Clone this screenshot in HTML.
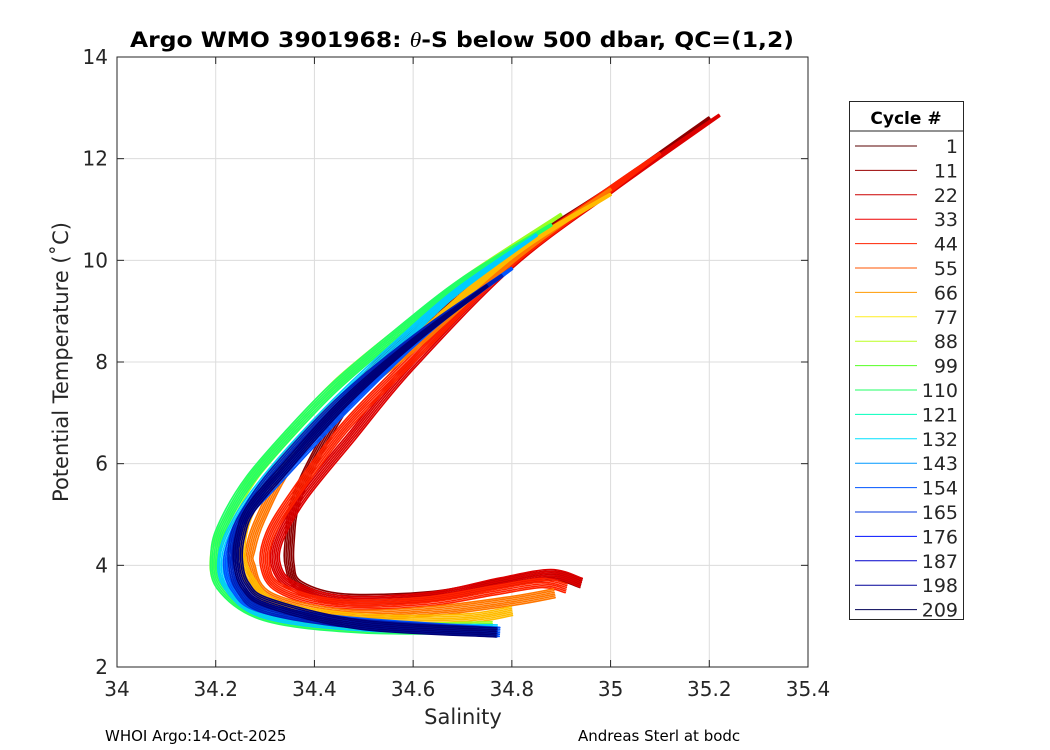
<!DOCTYPE html>
<html><head><meta charset="utf-8"><style>
body{margin:0;background:#fff;}
svg{display:block;font-family:"DejaVu Sans","Liberation Sans",sans-serif;}
</style></head><body>
<svg id="chart" width="1050" height="750" viewBox="0 0 1050 750" xmlns="http://www.w3.org/2000/svg">
<rect width="1050" height="750" fill="#fff"/>
<g id="grid"></g>
<g id="series"></g>
<rect x="117" y="57" width="691" height="610" fill="none" stroke="#262626" stroke-width="1"/>
<g id="ticks"></g>
<text x="462" y="47" text-anchor="middle" font-weight="bold" font-size="21" textLength="664" lengthAdjust="spacingAndGlyphs">Argo WMO 3901968: <tspan font-style="italic" font-weight="normal" font-family="Liberation Serif">θ</tspan>-S below 500 dbar,  QC=(1,2)</text>
<text x="463" y="724" text-anchor="middle" font-size="21" fill="#262626">Salinity</text>
<text transform="translate(68,362) rotate(-90)" text-anchor="middle" font-size="21" fill="#262626">Potential Temperature (˚C)</text>
<text x="105" y="741" font-size="15">WHOI Argo:14-Oct-2025</text>
<text x="578" y="741" font-size="15">Andreas Sterl at bodc</text>
<g id="legend"></g>
</svg>
<script>
const xTicks=[34,34.2,34.4,34.6,34.8,35,35.2,35.4];
const xTickLabels=["34","34.2","34.4","34.6","34.8","35","35.2","35.4"];
const yTicks=[2,4,6,8,10,12,14];
const yTickLabels=["2","4","6","8","10","12","14"];
const legendCycles=["1","11","22","33","44","55","66","77","88","99","110","121","132","143","154","165","176","187","198","209"];
const legendColors=["#5a0000","#990000","#cc0000","#ee0000","#ff2200","#ff5500","#ff9900","#ffee22","#bbff22","#55ff22","#22ff66","#00ffbb","#00e0ff","#0099ff","#0055ff","#0033dd","#0011ff","#0000cc","#000099","#000055"];

// representative profiles (salinity, temperature) per cycle group
const groupColors=["#8b0000","#dd0000","#ff2200","#ff7700","#ffbb00","#99ff22","#22ff66","#00ccff","#0055ff","#0022bb","#000077"];
const groupS=[
 [35.20,35.0,34.8,34.6,34.48,34.40,34.36,34.35,34.35,34.37,34.46,34.64,34.78,34.88,34.94],
 [35.22,35.0,34.796,34.594,34.476,34.378,34.329,34.322,34.357,34.46,34.636,34.775,34.879,34.94],
 [35.1,35.0,34.79,34.59,34.46,34.36,34.31,34.30,34.33,34.44,34.62,34.76,34.86,34.91],
 [35.0,34.8,34.60,34.46,34.35,34.29,34.27,34.27,34.309,34.462,34.636,34.80,34.886],
 [35.0,34.8,34.60,34.46,34.34,34.27,34.25,34.27,34.33,34.50,34.70,34.80],
 [34.9,34.7,34.56,34.45,34.36,34.28,34.23,34.20,34.21,34.30,34.50,34.76],
 [34.88,34.7,34.56,34.44,34.35,34.27,34.22,34.20,34.21,34.30,34.50,34.76],
 [34.85,34.69,34.575,34.465,34.375,34.295,34.245,34.215,34.225,34.30,34.50,34.77],
 [34.80,34.636,34.462,34.322,34.26,34.235,34.225,34.24,34.288,34.462,34.775],
 [34.78,34.62,34.46,34.325,34.265,34.24,34.235,34.25,34.30,34.48,34.77],
 [34.75,34.60,34.46,34.33,34.27,34.25,34.245,34.26,34.31,34.496,34.768]
];
const groupT=[
 [12.8,11.4,10.1,8.6,7.4,6.1,5.2,4.5,4.0,3.6,3.35,3.4,3.65,3.8,3.65],
 [12.85,11.37,9.91,7.92,6.54,5.37,4.55,4.0,3.59,3.31,3.38,3.66,3.83,3.66],
 [12.1,11.4,9.9,8.0,6.7,5.4,4.6,4.0,3.55,3.25,3.28,3.5,3.65,3.55],
 [11.4,10.0,8.3,7.2,6.0,4.9,4.3,4.0,3.38,3.04,3.1,3.3,3.45],
 [11.3,10.1,8.4,7.3,6.1,5.1,4.3,3.7,3.2,2.95,2.95,3.1],
 [10.9,9.6,8.5,7.6,6.7,5.8,5.0,4.3,3.6,3.02,2.78,2.8],
 [10.7,9.6,8.5,7.5,6.6,5.7,4.9,4.3,3.6,3.0,2.76,2.75],
 [10.5,9.4,8.4,7.4,6.5,5.6,4.9,4.2,3.6,3.05,2.8,2.74],
 [9.84,8.67,7.09,5.65,5.0,4.5,4.0,3.55,3.18,2.9,2.69],
 [9.7,8.6,7.3,5.9,5.1,4.6,4.05,3.55,3.15,2.86,2.68],
 [9.5,8.4,7.2,5.8,5.1,4.6,4.1,3.6,3.25,2.83,2.68]
];

const NS='http://www.w3.org/2000/svg';
const X0=117,X1=808,Y0=667,Y1=57;
const bundleOff=[-1,-0.6,-0.2,0.2,0.6,1];
const bundleHalfWidth=4.5;
function xs(s){return X0+(s-34)/(35.4-34)*(X1-X0);}
function ys(t){return Y0-(t-2)/(14-2)*(Y0-Y1);}
function mk(tag,attrs,parent){const e=document.createElementNS(NS,tag);for(const k in attrs)e.setAttribute(k,attrs[k]);parent.appendChild(e);return e;}
function smooth(P){
 let d='M'+P[0][0].toFixed(1)+','+P[0][1].toFixed(1);
 for(let i=0;i<P.length-1;i++){
  const p0=P[Math.max(0,i-1)],p1=P[i],p2=P[i+1],p3=P[Math.min(P.length-1,i+2)];
  const c1=[p1[0]+(p2[0]-p0[0])/6,p1[1]+(p2[1]-p0[1])/6];
  const c2=[p2[0]-(p3[0]-p1[0])/6,p2[1]-(p3[1]-p1[1])/6];
  d+=' C'+c1[0].toFixed(1)+','+c1[1].toFixed(1)+' '+c2[0].toFixed(1)+','+c2[1].toFixed(1)+' '+p2[0].toFixed(1)+','+p2[1].toFixed(1);
 }
 return d;
}
const grid=document.getElementById('grid'),ticks=document.getElementById('ticks'),ser=document.getElementById('series'),leg=document.getElementById('legend');

xTicks.forEach((v,i)=>{
 const x=xs(v);
 if(i>0&&i<xTicks.length-1){const g=mk('line',{x1:x,x2:x,y1:Y1,y2:Y0,stroke:'#dcdcdc','stroke-width':1},grid);
 
 }
 mk('line',{x1:x,x2:x,y1:Y0,y2:Y0-7,stroke:'#262626'},ticks);
 mk('line',{x1:x,x2:x,y1:Y1,y2:Y1+7,stroke:'#262626'},ticks);
 const t=mk('text',{x:x,y:Y0+29,'text-anchor':'middle','font-size':20,fill:'#262626'},ticks);
 t.textContent=xTickLabels[i];
 
 
});
yTicks.forEach((v,i)=>{
 const y=ys(v);
 if(i>0&&i<yTicks.length-1){const g=mk('line',{x1:X0,x2:X1,y1:y,y2:y,stroke:'#dcdcdc','stroke-width':1},grid);
 
 }
 mk('line',{x1:X0,x2:X0+7,y1:y,y2:y,stroke:'#262626'},ticks);
 mk('line',{x1:X1,x2:X1-7,y1:y,y2:y,stroke:'#262626'},ticks);
 const t=mk('text',{x:X0-9,y:y+7,'text-anchor':'end','font-size':20,fill:'#262626'},ticks);
 t.textContent=yTickLabels[i];
 
 
});

groupS.forEach((S,g)=>{
 const T=groupT[g];
 const P=S.map((s,i)=>[xs(s),ys(T[i])]);
 const n=P.length;
 bundleOff.forEach(o=>{
  const Q=P.map((p,i)=>{
   const a=P[Math.max(0,i-1)],b=P[Math.min(n-1,i+1)];
   let dx=b[0]-a[0],dy=b[1]-a[1];const L=Math.hypot(dx,dy)||1;
   const taper=Math.min(1,0.25+i/3);
   const w=o*bundleHalfWidth*taper;
   return [p[0]-dy/L*w,p[1]+dx/L*w];
  });
  const p=mk('path',{d:smooth(Q),fill:'none',stroke:groupColors[g],'stroke-width':1.6,'stroke-linejoin':'round','stroke-linecap':'round'},ser);
  
  
 });
});

const lb=mk('rect',{x:849.5,y:101.5,width:114,height:518,fill:'#fff',stroke:'#262626'},leg);


mk('line',{x1:849.5,x2:963.5,y1:131,y2:131,stroke:'#262626'},leg);
const lt=mk('text',{x:906,y:124,'text-anchor':'middle','font-size':17,'font-weight':'bold'},leg);
lt.textContent='Cycle #';


legendCycles.forEach((c,i)=>{
 const y=146+i*24.4;
 const l=mk('line',{x1:855,x2:917,y1:y,y2:y,stroke:legendColors[i],'stroke-width':1},leg);
 
 
 const t=mk('text',{x:958,y:y+7,'text-anchor':'end','font-size':19,fill:'#262626'},leg);
 t.textContent=c;
 
 
});
</script>
</body></html>
